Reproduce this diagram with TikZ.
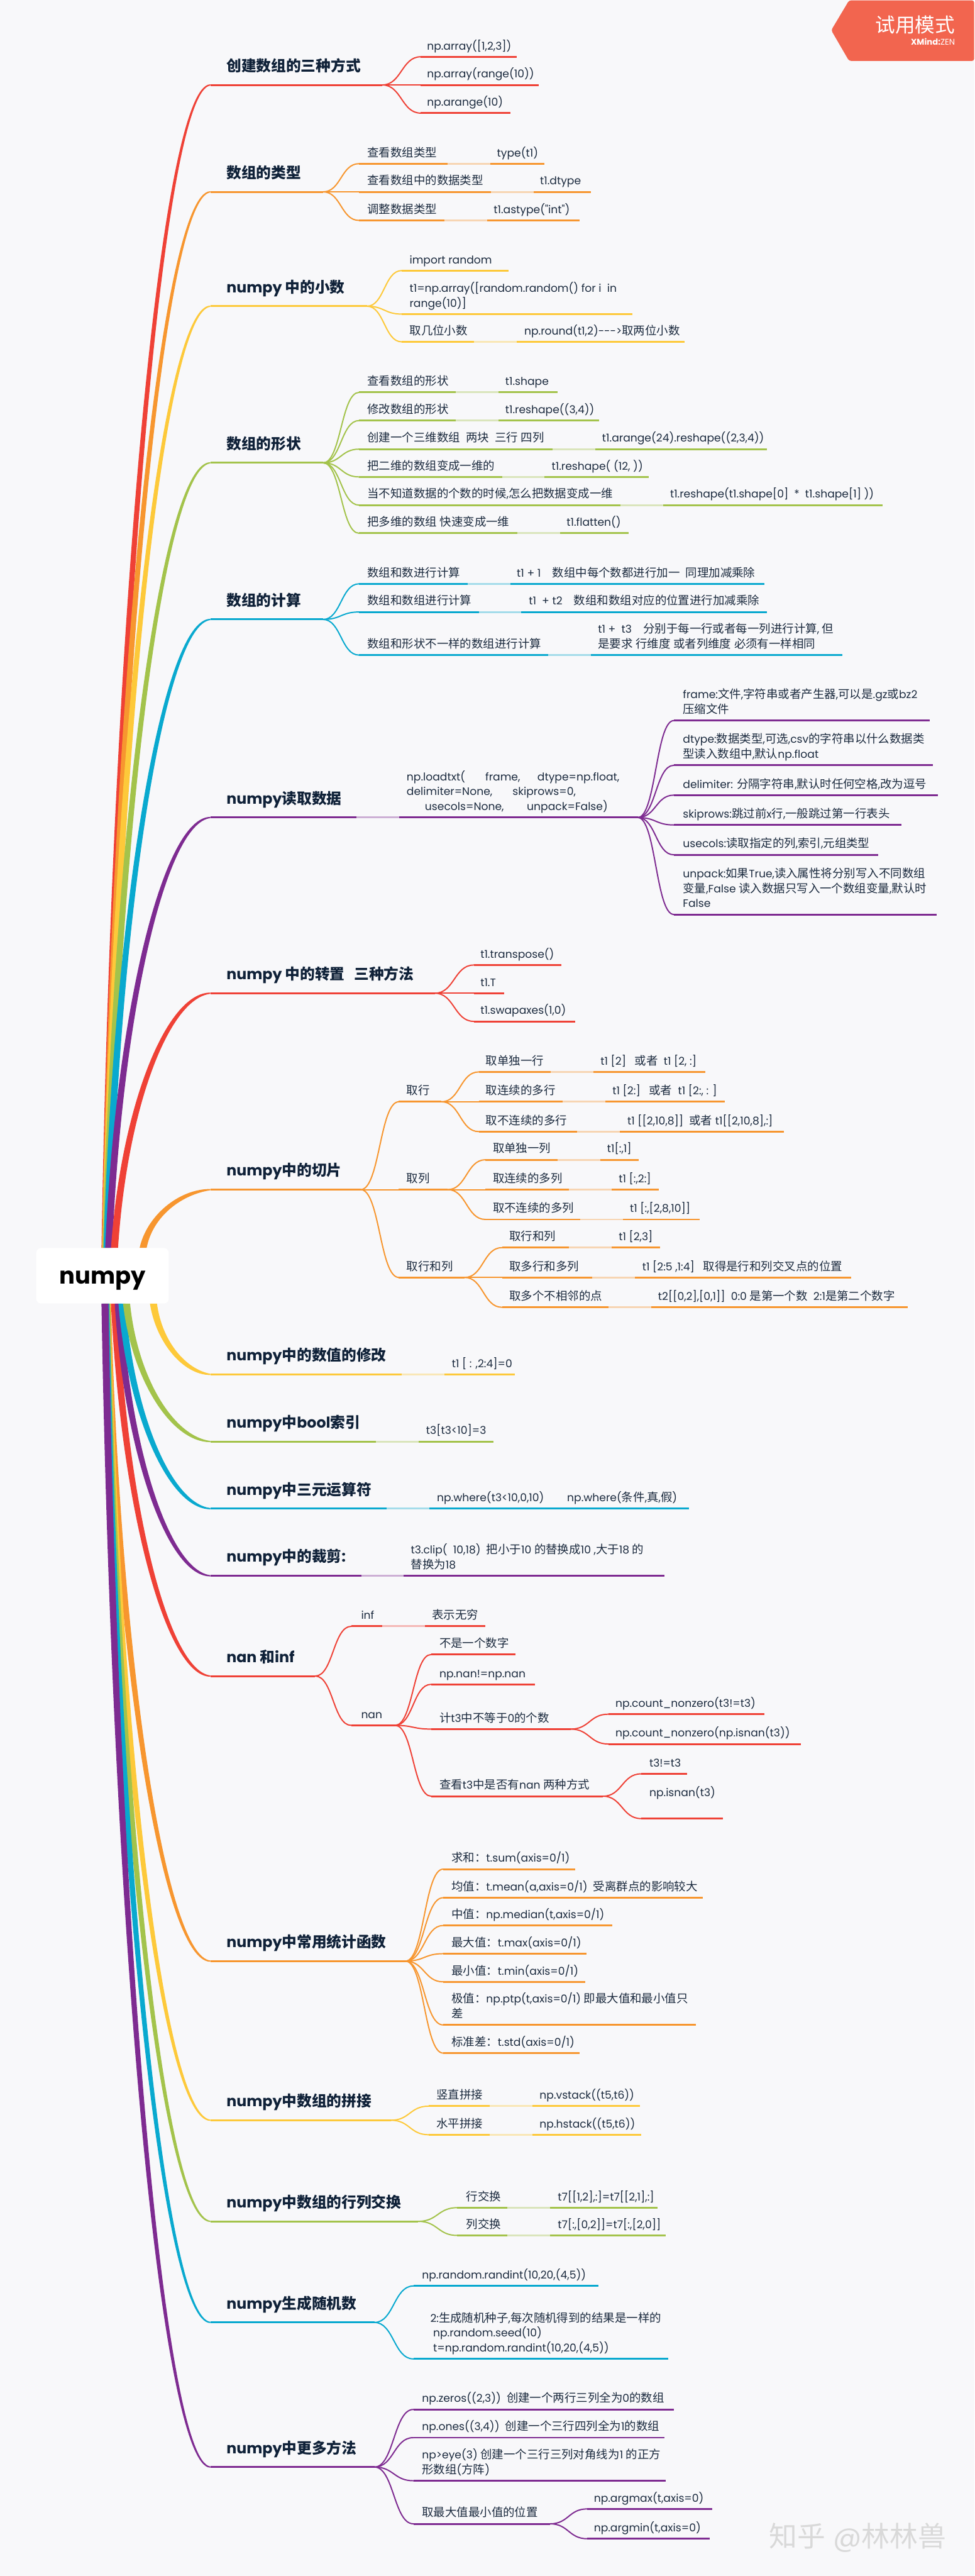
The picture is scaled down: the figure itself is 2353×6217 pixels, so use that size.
\documentclass[tikz,border=0pt]{standalone}
\usepackage{fontspec}
\usetikzlibrary{calc,backgrounds}
\newfontfamily\latinf[Scale=0.93]{Poppins}
\newfontfamily\latinb{Poppins}
\newfontfamily\cjkf{Noto Sans CJK SC}
\chardef\cjkcls=10
\newcount\cjkcc
\cjkcc="3000 \loop\ifnum\cjkcc<"A000 \XeTeXcharclass\cjkcc=\cjkcls \advance\cjkcc 1 \repeat
\cjkcc="FF00 \loop\ifnum\cjkcc<"FFF0 \XeTeXcharclass\cjkcc=\cjkcls \advance\cjkcc 1 \repeat
\XeTeXinterchartoks 0 \cjkcls={\begingroup\cjkf}
\XeTeXinterchartoks 4095 \cjkcls={\begingroup\cjkf}
\XeTeXinterchartoks \cjkcls 0={\endgroup}
\XeTeXinterchartoks \cjkcls 4095={\endgroup}
\XeTeXinterchartokenstate=1
\definecolor{bgc}{HTML}{F8F8FA}
\definecolor{cr}{HTML}{EF4136}
\definecolor{co}{HTML}{F7962F}
\definecolor{cy}{HTML}{FDC93A}
\definecolor{cg}{HTML}{A3C34B}
\definecolor{cb}{HTML}{09A9CF}
\definecolor{cp}{HTML}{7E2B91}
\definecolor{ink}{HTML}{0F2138}
\definecolor{inkl}{HTML}{1C2B3F}
\definecolor{badge}{HTML}{F2654F}
\tikzset{
  conn/.style={draw=#1,line width=3pt,line cap=round},
  uline/.style={draw=#1,line width=4.5pt},
  gapln/.style={draw=bgc,opacity=.65,line width=5pt},
  ltxt/.style={inner sep=0pt,outer sep=0pt,text=inkl,font=\latinf\fontsize{28}{36}\selectfont,anchor=base west},
  ttxt/.style={inner sep=0pt,outer sep=0pt,text=ink,font=\latinb\bfseries\fontsize{36}{44}\selectfont,anchor=base west},
  rootbox/.style={fill=white,rounded corners=12pt,minimum width=320pt,minimum height=134pt,inner sep=0pt,outer sep=0pt},
}
\newcommand{\Tb}[2]{\makebox[#1pt][l]{#2}}
\newcommand{\twol}[2]{\vbox{\hbox{#1}\hbox{#2}}}
\newcommand{\threel}[3]{\vbox{\hbox{#1}\hbox{#2}\hbox{#3}}}
% child topic: id, parent, colour, xl, xr, y, xt, text
\newcommand{\lfx}[8]{%
  \coordinate (#1-a) at (#4,#6);
  \coordinate (#1-b) at (#5,#6);
  \coordinate (#1-m) at ($(#2)!.5!(#1-a)$);
  \draw[conn=#3] (#2) .. controls (#1-m |- #2) and (#1-m |- #1-a) .. (#1-a);
  \draw[uline=#3] (#1-a) -- (#1-b);
  \pgfmathsetmacro\lfby{#6-17}
  \node[ltxt] (#1) at (#7,\lfby) {#8};
}
\newcommand{\gapx}[2]{\draw[gapln] (#1,#2) -- ++(103,0);}
% main branch: id, colour, root anchor, edge y, x0, y end, x right, text
\newcommand{\rbx}[8]{%
  \pgfmathsetmacro\ox{#5-87.5}
  \pgfmathsetmacro\oxt{#5-87.5+17}
  \coordinate (#1-s) at ($(root.#3 west)+(\ox,0)$);
  \coordinate (#1-t) at ($(root.#3 west)+(\oxt,0)$);
  \coordinate (#1-a) at (508,#6);
  \coordinate (#1-b) at (#7,#6);
  \pgfmathsetmacro\dxx{508-#5}
  \pgfmathsetmacro\dyy{#6-#4}
  \pgfmathsetmacro\sg{sign(\dyy)}
  \pgfmathsetmacro\cax{#5+.1*\dxx}
  \pgfmathsetmacro\cay{#4+.55*\dyy}
  \pgfmathsetmacro\cbx{508-.45*\dxx}
  \pgfmathsetmacro\cbi{\cbx+8}
  \pgfmathsetmacro\eo{#6+\sg*1.5}
  \pgfmathsetmacro\ei{#6-\sg*1.5}
  \pgfmathsetmacro\ci{#6-\sg*12}
  \pgfmathsetmacro\cat{\cax+15}
  \begin{scope}[on background layer]
  \fill[#2] (#1-s) .. controls (\cax,\cay) and (\cbx,\eo) .. (508,\eo) -- (508,\ei) .. controls (\cbi,\ci) and (\cat,\cay) .. (#1-t) -- cycle;
  \end{scope}
  \draw[uline=#2] (#1-a) -- (#1-b);
  \pgfmathsetmacro\lfby{#6-33}
  \node[ttxt] (#1) at (547,\lfby) {#8};
}
\newcommand{\lblx}[4]{\pgfmathsetmacro\lfby{#3-17}\node[ltxt] (#1) at (#2,\lfby) {#4};}
\begin{document}
\begin{tikzpicture}[x=1pt,y=-1pt]
\useasboundingbox (0,0) rectangle (2353,6217);
\begin{scope}[on background layer]
\fill[bgc] (0,0) rectangle (2353,6217);
\end{scope}
\node[rootbox] (root) at (247.5,3079) {};
\node[inner sep=0pt,anchor=base,text=black,font=\latinb\bfseries\fontsize{56}{60}\selectfont] (rootlabel) at (248,3098) {numpy};

% 1
\rbx{A}{cr}{north}{3012}{245}{205}{923}{创建数组的三种方式}
\lfx{A1}{A-b}{cr}{1016}{1247}{137}{1031}{np.array([1,2,3])}
\lfx{A2}{A-b}{cr}{1016}{1300}{205}{1031}{np.array(range(10))}
\lfx{A3}{A-b}{cr}{1016}{1232}{273}{1031}{np.arange(10)}
% 2
\rbx{B}{co}{north}{3012}{246}{463}{780}{数组的类型}
\lfx{B1}{B-b}{co}{867}{1315}{395}{887}{\Tb{313}{查看数组类型}type(t1)}\gapx{1081}{395}
\lfx{B2}{B-b}{co}{867}{1427}{463}{887}{\Tb{417}{查看数组中的数据类型}t1.dtype}\gapx{1185}{463}
\lfx{B3}{B-b}{co}{867}{1400}{532}{887}{\Tb{305}{调整数据类型}t1.astype("int")}\gapx{1073}{532}
% 3
\rbx{C}{cy}{north}{3012}{247}{739}{886}{numpy 中的小数}
\lfx{C1}{C-b}{cy}{970}{1228}{653}{989}{import random}
\lfx{C2}{C-b}{cy}{970}{1527}{758}{989}{\twol{t1=np.array([random.random() for i~~in}{range(10)]}}
\lfx{C3}{C-b}{cy}{970}{1653}{825}{989}{\Tb{277}{取几位小数}np.round(t1,2)--->取两位小数}\gapx{1145}{825}
% 4
\rbx{D}{cg}{north}{3012}{248}{1117}{780}{数组的形状}
\lfx{D1}{D-b}{cg}{867}{1347}{947}{887}{\Tb{333}{查看数组的形状}t1.shape}\gapx{1100}{947}
\lfx{D2}{D-b}{cg}{867}{1446}{1015}{887}{\Tb{333}{修改数组的形状}t1.reshape((3,4))}\gapx{1100}{1015}
\lfx{D3}{D-b}{cg}{867}{1852}{1084}{887}{\Tb{567}{创建一个三维数组~~两块~~三行 四列}t1.arange(24).reshape((2,3,4))}\gapx{1334}{1084}
\lfx{D4}{D-b}{cg}{867}{1567}{1151}{887}{\Tb{445}{把二维的数组变成一维的}t1.reshape( (12, ))}\gapx{1212}{1151}
\lfx{D5}{D-b}{cg}{867}{2131}{1219}{887}{\Tb{731}{当不知道数据的个数的时候,怎么把数据变成一维}t1.reshape(t1.shape[0]~~*~~t1.shape[1] ))}\gapx{1498}{1219}
\lfx{D6}{D-b}{cg}{867}{1518}{1287}{887}{\Tb{481}{把多维的数组 快速变成一维}t1.flatten()}\gapx{1249}{1287}
% 5
\rbx{E}{cb}{north}{3012}{250}{1495}{780}{数组的计算}
\lfx{E1}{E-b}{cb}{867}{1845}{1409}{887}{\Tb{361}{数组和数进行计算}t1 + 1~~~~数组中每个数都进行加一~~同理加减乘除}\gapx{1129}{1409}
\lfx{E2}{E-b}{cb}{867}{1852}{1477}{887}{\Tb{390}{数组和数组进行计算}t1~~+ t2~~~~数组和数组对应的位置进行加减乘除}\gapx{1156}{1477}
\lfx{E3}{E-b}{cb}{867}{2034}{1581}{887}{\twol{\hskip557pt t1 +~~t3~~~~分别于每一行或者每一列进行计算, 但}{\Tb{557}{数组和形状不一样的数组进行计算}是要求 行维度 或者列维度 必须有一样相同}}\gapx{1324}{1581}
% 6
\rbx{F}{cp}{north}{3012}{254}{1973}{1540}{numpy读取数据}
\gapx{861}{1973}
\lblx{F0}{982}{1973}{\threel{np.loadtxt(~~~~~~~frame,~~~~~~dtype=np.float,}{delimiter=None,~~~~~~~skiprows=0,}{\hskip44pt usecols=None,~~~~~~~~unpack=False)}}
\lfx{F1}{F-b}{cp}{1627}{2245}{1739}{1649}{\twol{frame:文件,字符串或者产生器,可以是.gz或bz2}{压缩文件}}
\lfx{F2}{F-b}{cp}{1627}{2253}{1847}{1649}{\twol{dtype:数据类型,可选,csv的字符串以什么数据类}{型读入数组中,默认np.float}}
\lfx{F3}{F-b}{cp}{1627}{2264}{1919}{1649}{delimiter: 分隔字符串,默认时任何空格,改为逗号}
\lfx{F4}{F-b}{cp}{1627}{2176}{1991}{1649}{skiprows:跳过前x行,一般跳过第一行表头}
\lfx{F5}{F-b}{cp}{1627}{2121}{2063}{1649}{usecols:读取指定的列,索引,元组类型}
\lfx{F6}{F-b}{cp}{1627}{2261}{2207}{1649}{\threel{unpack:如果True,读入属性将分别写入不同数组}{变量,False 读入数据只写入一个数组变量,默认时}{False}}
% 7
\rbx{G}{cr}{north}{3012}{268}{2397}{1050}{numpy 中的转置~~~三种方法}
\lfx{G1}{G-b}{cr}{1144}{1355}{2329}{1160}{t1.transpose()}
\lfx{G2}{G-b}{cr}{1144}{1218}{2397}{1160}{t1.T}
\lfx{G3}{G-b}{cr}{1144}{1389}{2465}{1160}{t1.swapaxes(1,0)}
% 8
\rbx{H}{co}{north}{3012}{337}{2871}{871}{numpy中的切片}
\lfx{Ha}{H-b}{co}{963}{1066}{2659}{982}{取行}
\lfx{Ha1}{Ha-b}{co}{1156}{1703}{2587}{1173}{\Tb{277}{取单独一行}t1 [2]~~~或者~~t1 [2, :]}\gapx{1330}{2587}
\lfx{Ha2}{Ha-b}{co}{1156}{1750}{2659}{1173}{\Tb{306}{取连续的多行}t1 [2:]~~~或者~~t1 [2:, : ]}\gapx{1359}{2659}
\lfx{Ha3}{Ha-b}{co}{1156}{1892}{2731}{1173}{\Tb{342}{取不连续的多行}t1 [[2,10,8]]~~或者 t1[[2,10,8],:]}\gapx{1394}{2731}
\lfx{Hb}{H-b}{co}{963}{1081}{2871}{982}{取列}
\lfx{Hb1}{Hb-b}{co}{1172}{1542}{2799}{1190}{\Tb{276}{取单独一列}t1[:,1]}\gapx{1347}{2799}
\lfx{Hb2}{Hb-b}{co}{1172}{1591}{2871}{1190}{\Tb{304}{取连续的多列}t1 [:,2:]}\gapx{1374}{2871}
\lfx{Hb3}{Hb-b}{co}{1172}{1689}{2943}{1190}{\Tb{331}{取不连续的多列}t1 [:,[2,8,10]]}\gapx{1401}{2943}
\lfx{Hc}{H-b}{co}{963}{1122}{3083}{982}{取行和列}
\lfx{Hc1}{Hc-b}{co}{1212}{1594}{3011}{1230}{\Tb{264}{取行和列}t1 [2,3]}\gapx{1374}{3011}
\lfx{Hc2}{Hc-b}{co}{1212}{2055}{3083}{1230}{\Tb{321}{取多行和多列}t1 [2:5 ,1:4]~~~取得是行和列交叉点的位置}\gapx{1430}{3083}
\lfx{Hc3}{Hc-b}{co}{1212}{2192}{3155}{1230}{\Tb{359}{取多个不相邻的点}t2[[0,2],[0,1]]~~0:0 是第一个数~~2:1是第二个数字}\gapx{1469}{3155}
% 14-18 then 13-9 (stacking on the root's lower edge)
\rbx{N}{co}{south}{3146}{251}{4733}{979}{numpy中常用统计函数}
\lfx{N1}{N-b}{co}{1070}{1389}{4511}{1090}{求和：t.sum(axis=0/1)}
\lfx{N2}{N-b}{co}{1070}{1697}{4580}{1090}{均值：t.mean(a,axis=0/1)~~受离群点的影响较大}
\lfx{N3}{N-b}{co}{1070}{1479}{4647}{1090}{中值：np.median(t,axis=0/1)}
\lfx{N4}{N-b}{co}{1070}{1416}{4715}{1090}{最大值：t.max(axis=0/1)}
\lfx{N5}{N-b}{co}{1070}{1413}{4783}{1090}{最小值：t.min(axis=0/1)}
\lfx{N6}{N-b}{co}{1070}{1680}{4887}{1090}{\twol{极值：np.ptp(t,axis=0/1) 即最大值和最小值只}{差}}
\lfx{N7}{N-b}{co}{1070}{1399}{4955}{1090}{标准差：t.std(axis=0/1)}
\rbx{O}{cy}{south}{3146}{250}{5117}{944}{numpy中数组的拼接}
\lfx{O1}{O-b}{cy}{1035}{1545}{5083}{1054}{\Tb{249}{竖直拼接}np.vstack((t5,t6))}\gapx{1182}{5083}
\lfx{O2}{O-b}{cy}{1035}{1548}{5152}{1054}{\Tb{249}{水平拼接}np.hstack((t5,t6))}\gapx{1182}{5152}
\rbx{P}{cg}{south}{3146}{249}{5361}{1010}{numpy中数组的行列交换}
\lfx{P1}{P-b}{cg}{1104}{1588}{5328}{1126}{\Tb{221}{行交换}t7[[1,2],:]=t7[[2,1],:]}\gapx{1225}{5328}
\lfx{P2}{P-b}{cg}{1104}{1607}{5395}{1126}{\Tb{221}{列交换}t7[:,[0,2]]=t7[:,[2,0]]}\gapx{1225}{5395}
\rbx{Q}{cb}{south}{3146}{247}{5605}{904}{numpy生成随机数}
\lfx{Q1}{Q-b}{cb}{998}{1445}{5517}{1019}{np.random.randint(10,20,(4,5))}
\lfx{Q2}{Q-b}{cb}{998}{1614}{5693}{1039}{\threel{2:生成随机种子,每次随机得到的结果是一样的}{\hskip7pt np.random.seed(10)}{\hskip7pt t=np.random.randint(10,20,(4,5))}}
\rbx{R}{cp}{south}{3146}{245}{5954}{904}{numpy中更多方法}
\lfx{R1}{R-b}{cp}{998}{1627}{5815}{1019}{np.zeros((2,3))~~创建一个两行三列全为0的数组}
\lfx{R2}{R-b}{cp}{998}{1604}{5883}{1019}{np.ones((3,4))~~创建一个三行四列全为1的数组}
\lfx{R3}{R-b}{cp}{998}{1608}{5987}{1019}{\twol{np>eye(3) 创建一个三行三列对角线为1 的正方}{形数组(方阵)}}
\lfx{R4}{R-b}{cp}{998}{1328}{6091}{1019}{取最大值最小值的位置}
\lfx{R41}{R4-b}{cp}{1418}{1719}{6055}{1434}{np.argmax(t,axis=0)}
\lfx{R42}{R4-b}{cp}{1418}{1713}{6127}{1434}{np.argmin(t,axis=0)}
% 13
\rbx{M}{cr}{south}{3146}{268}{4045}{761}{nan 和inf}
\lfx{M1}{M-b}{cr}{848}{1172}{3925}{872}{\Tb{171}{inf}表示无穷}\gapx{923}{3925}
\lfx{M2}{M-b}{cr}{848}{954}{4164}{872}{nan}
\lfx{M21}{M2-b}{cr}{1041}{1244}{3993}{1061}{不是一个数字}
\lfx{M22}{M2-b}{cr}{1041}{1291}{4065}{1061}{np.nan!=np.nan}
\lfx{M23}{M2-b}{cr}{1041}{1378}{4173}{1061}{计t3中不等于0的个数}
\lfx{M231}{M23-b}{cr}{1469}{1845}{4137}{1486}{np.count\_nonzero(t3!=t3)}
\lfx{M232}{M23-b}{cr}{1469}{1933}{4209}{1486}{np.count\_nonzero(np.isnan(t3))}
\lfx{M24}{M2-b}{cr}{1041}{1456}{4335}{1061}{查看t3中是否有nan 两种方式}
\lfx{M241}{M24-b}{cr}{1548}{1659}{4281}{1568}{t3!=t3}
\lfx{M242}{M24-b}{cr}{1548}{1745}{4389}{1568}{\twol{np.isnan(t3)}{\mbox{}}}
% 12
\rbx{L}{cp}{south}{3146}{277}{3803}{1604}{numpy中的裁剪:}
\gapx{872}{3803}
\lblx{L1}{992}{3803}{\twol{t3.clip(~~10,18)~~把小于10 的替换成10 ,大于18 的}{替换为18}}
% 11
\rbx{K}{cb}{south}{3146}{286}{3641}{1664}{numpy中三元运算符}
\gapx{934}{3641}
\lblx{K1}{1055}{3641}{np.where(t3<10,0,10)~~~~~~~~np.where(条件,真,假)}
% 10
\rbx{J}{cg}{south}{3146}{297}{3479}{1191}{numpy中bool索引}
\gapx{908}{3479}
\lblx{J1}{1029}{3479}{t3[t3<10]=3}
% 9
\rbx{I}{cy}{south}{3146}{362}{3317}{1243}{numpy中的数值的修改}
\gapx{970}{3317}
\lblx{I1}{1091}{3317}{t1 [ : ,2:4]=0}

% badge
\fill[badge,rounded corners=5pt] (2050,1) -- (2352,1) -- (2352,147) -- (2050,147) -- (2007,73) -- cycle;
\node[inner sep=0pt,anchor=base east,text=white,font=\latinb\fontsize{48}{52}\selectfont] (badgea) at (2306,78) {试用模式};
\node[inner sep=0pt,anchor=base east,text=white,font=\latinb\fontsize{20}{24}\selectfont] (badgeb) at (2306,109) {\textbf{XMind:}ZEN};
% watermark
\node[inner sep=0pt,anchor=base west,text=black!15,font=\latinb\fontsize{68}{72}\selectfont] (wm) at (1857,6146) {知乎 @林林兽};
\end{tikzpicture}
\end{document}
